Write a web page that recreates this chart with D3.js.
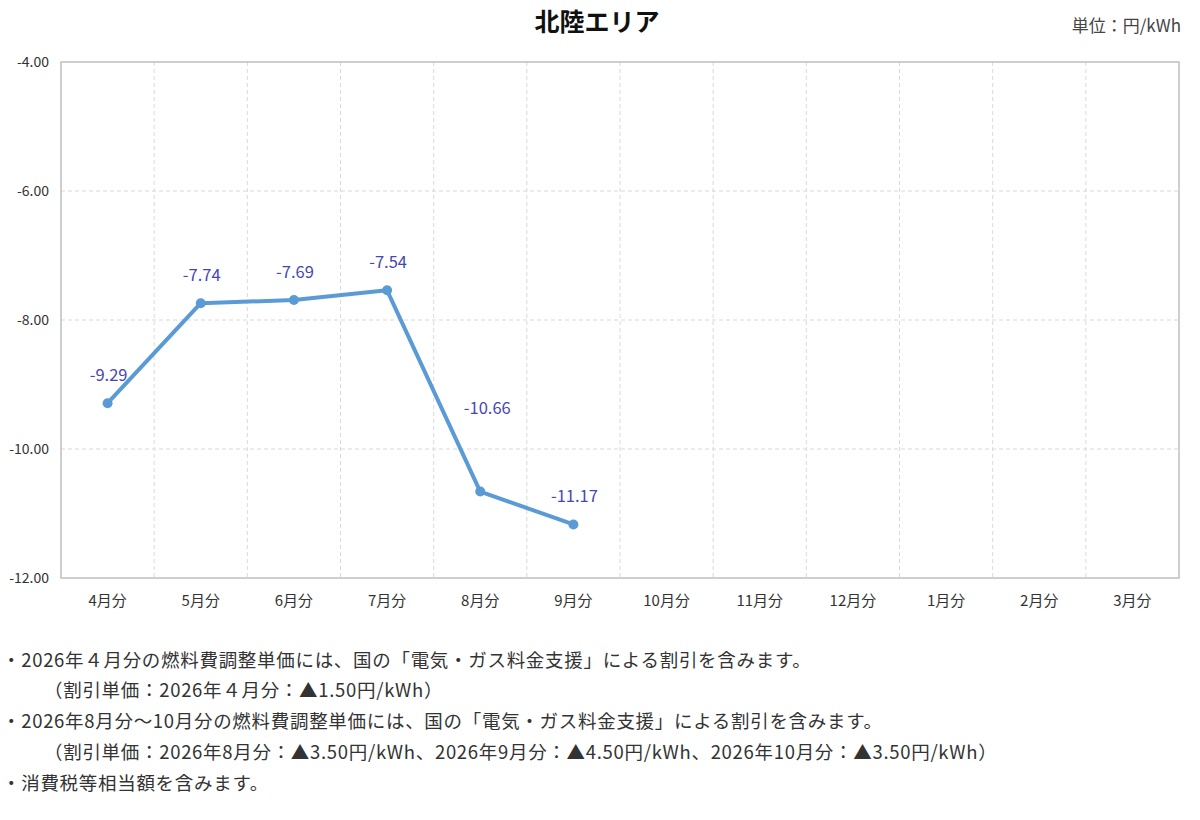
<!DOCTYPE html>
<html><head><meta charset="utf-8">
<script src="https://cdn.jsdelivr.net/npm/d3@7"></script>
<style>
body{margin:0;background:#fff;font-family:"Noto Sans CJK JP","Noto Sans",sans-serif;}
</style></head>
<body>
<svg id="chart" width="1200" height="820"></svg>
<script>
const title = "北陸エリア";
const unitLabel = "単位：円/kWh";
const months = ["4月分","5月分","6月分","7月分","8月分","9月分","10月分","11月分","12月分","1月分","2月分","3月分"];
const values = [-9.29, -7.74, -7.69, -7.54, -10.66, -11.17];
const yTicks = [-4, -6, -8, -10, -12];
const notes = [
  {text:"・2026年４月分の燃料費調整単価には、国の「電気・ガス料金支援」による割引を含みます。", indent:false},
  {text:"（割引単価：2026年４月分：▲1.50円/kWh）", indent:true},
  {text:"・2026年8月分～10月分の燃料費調整単価には、国の「電気・ガス料金支援」による割引を含みます。", indent:false},
  {text:"（割引単価：2026年8月分：▲3.50円/kWh、2026年9月分：▲4.50円/kWh、2026年10月分：▲3.50円/kWh）", indent:true},
  {text:"・消費税等相当額を含みます。", indent:false}
];

const svg = d3.select("#chart");
const m = {left:61, right:1179, top:62, bottom:578};
const x = d3.scaleBand().domain(months).range([m.left, m.right]);
const y = d3.scaleLinear().domain([-12, -4]).range([m.bottom, m.top]);
const fmt = v => d3.format(".2f")(v).replace("\u2212", "-");

// gridlines
const grid = svg.append("g");
grid.selectAll("line.h").data(yTicks.filter(d => d !== -4 && d !== -12)).join("line")
  .attr("x1", m.left).attr("x2", m.right)
  .attr("y1", d => y(d)).attr("y2", d => y(d))
  .attr("stroke", "#d9d9d9").attr("stroke-width", 1).attr("stroke-dasharray", "4,3");
grid.selectAll("line.v").data(months.slice(1)).join("line")
  .attr("x1", d => x(d)).attr("x2", d => x(d))
  .attr("y1", m.top).attr("y2", m.bottom)
  .attr("stroke", "#d9d9d9").attr("stroke-width", 1).attr("stroke-dasharray", "4,3");

// frame
svg.append("rect").attr("x", m.left).attr("y", m.top)
  .attr("width", m.right - m.left).attr("height", m.bottom - m.top)
  .attr("fill", "none").attr("stroke", "#bfbfbf").attr("stroke-width", 1.5);

// y axis
const yAxis = svg.append("g").attr("transform", `translate(${m.left},0)`)
  .call(d3.axisLeft(y).tickValues(yTicks).tickFormat(fmt).tickSize(0).tickPadding(12));
yAxis.select(".domain").remove();
yAxis.selectAll("text").attr("fill", "#333").style("font-size", "14px")
  .style("font-family", "'Noto Sans CJK JP',sans-serif");

// x axis
const xAxis = svg.append("g").attr("transform", `translate(0,${m.bottom})`)
  .call(d3.axisBottom(x).tickSize(0).tickPadding(17));
xAxis.select(".domain").remove();
xAxis.selectAll("text").attr("fill", "#333").style("font-size", "15px")
  .style("font-family", "'Noto Sans CJK JP',sans-serif");

// line
const pts = values.map((v, i) => ({m: months[i], v, i}));
svg.append("path").datum(pts)
  .attr("fill", "none").attr("stroke", "#5b9bd5").attr("stroke-width", 4)
  .attr("stroke-linejoin", "round")
  .attr("d", d3.line().x(d => x(d.m) + x.bandwidth()/2).y(d => y(d.v)));
svg.selectAll("circle.pt").data(pts).join("circle")
  .attr("cx", d => x(d.m) + x.bandwidth()/2).attr("cy", d => y(d.v))
  .attr("r", 5).attr("fill", "#5b9bd5");
// label placed higher when the segment arrives steeply from above
const labelLift = d => (d.i > 0 && values[d.i - 1] - d.v > 2) ? 78 : 22;
svg.selectAll("text.lbl").data(pts).join("text")
  .attr("x", d => x(d.m) + x.bandwidth()/2 + (labelLift(d) > 30 ? 7 : 1)).attr("y", d => y(d.v) - labelLift(d))
  .attr("text-anchor", "middle").attr("fill", "#4646b4")
  .style("font-size", "16.5px").style("font-family", "'Noto Sans CJK JP',sans-serif")
  .text(d => fmt(d.v));

// title
svg.append("text").attr("x", 597).attr("y", 31).attr("text-anchor", "middle")
  .attr("fill", "#111").style("font-size", "25px").style("font-weight", "bold").text(title);
svg.append("text").attr("x", 1181).attr("y", 32).attr("text-anchor", "end")
  .attr("fill", "#444").style("font-size", "17px").text(unitLabel);

// notes
const noteY = [667, 697, 728, 759, 790];
svg.selectAll("text.note").data(notes).join("text")
  .attr("x", d => d.indent ? 44 : 2).attr("y", (d, i) => noteY[i])
  .attr("fill", "#333").style("font-size", "18.5px").style("letter-spacing", "0.7px")
  .text(d => d.text);
</script>
</body></html>
